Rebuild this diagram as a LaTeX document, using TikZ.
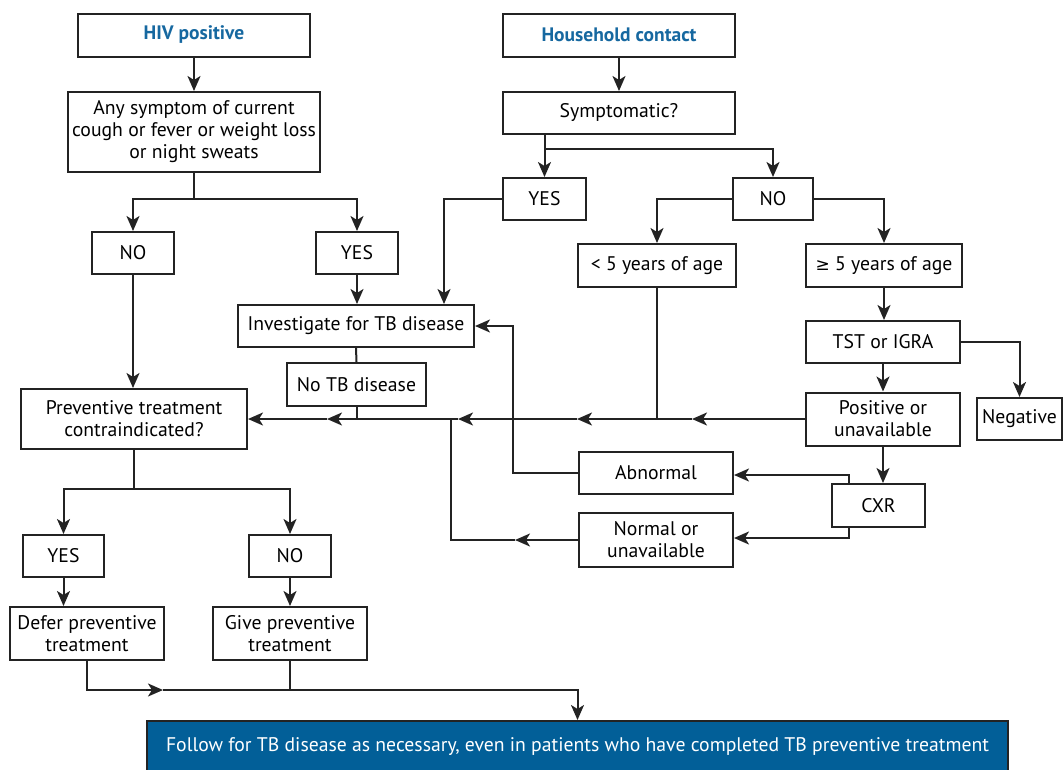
\documentclass[tikz,border=0pt]{standalone}
\usepackage{fontspec}
\setmainfont{PT Sans}
\newfontfamily\symfont{DejaVu Sans}
\usetikzlibrary{arrows.meta,calc}
\definecolor{hivblue}{RGB}{22,104,160}
\definecolor{boxblue}{RGB}{2,95,152}
\definecolor{ink}{RGB}{35,35,35}
\begin{document}
\begin{tikzpicture}[x=1pt,y=-1pt,
  font=\fontsize{19.7}{22}\selectfont,
  box/.style={draw=ink, line width=2pt, align=center, inner sep=0pt, text=black},
  title/.style={box, text=hivblue, font=\fontsize{19.5}{22}\selectfont\bfseries},
  line/.style={draw=ink, line width=2pt},
  arr/.style={line, -{Stealth[length=15pt,width=13pt,inset=4pt]}}]
\useasboundingbox (0,0) rectangle (1063,769);
% nodes
\node[title, minimum width=232pt, minimum height=43pt] (hiv) at (194,35) {HIV positive};
\node[title, minimum width=232pt, minimum height=43pt] (hh) at (619,35) {Household contact};
\node[box, minimum width=252pt, minimum height=80pt] (sym) at (194,132) {Any symptom of current\\cough or fever or weight loss\\or night sweats};
\node[box, minimum width=232pt, minimum height=42pt] (symq) at (619,113) {Symptomatic?};
\node[box, minimum width=82pt, minimum height=42pt] (hno) at (133,253) {NO};
\node[box, minimum width=82pt, minimum height=42pt] (hyes) at (357,253) {YES};
\node[box, minimum width=83pt, minimum height=42pt] (cyes) at (544.5,199) {YES};
\node[box, minimum width=80pt, minimum height=42pt] (cno) at (773,199) {NO};
\node[box, minimum width=158pt, minimum height=43pt] (lt5) at (657,265.5) {< 5 years of age};
\node[box, minimum width=156pt, minimum height=43pt] (ge5) at (884,265.5) {{\symfont\fontsize{17}{22}\selectfont ≥} 5 years of age};
\node[box, minimum width=236pt, minimum height=42pt] (inv) at (356,326) {Investigate for TB disease};
\node[box, minimum width=139pt, minimum height=43pt] (notb) at (356.5,384.5) {No TB disease};
\node[box, minimum width=154pt, minimum height=42pt] (tst) at (883,342) {TST or IGRA};
\node[box, minimum width=154pt, minimum height=53pt] (posu) at (883,419) {Positive or\\unavailable};
\node[box, minimum width=85pt, minimum height=42pt] (neg) at (1019.5,419) {Negative};
\node[box, minimum width=93pt, minimum height=43pt] (cxr) at (878.5,505.5) {CXR};
\node[box, minimum width=154pt, minimum height=42pt] (abn) at (656,473) {Abnormal};
\node[box, minimum width=154pt, minimum height=54pt] (norm) at (656,540) {Normal or\\unavailable};
\node[box, minimum width=226pt, minimum height=60pt] (prev) at (134,419) {Preventive treatment\\contraindicated?};
\node[box, minimum width=81pt, minimum height=42pt] (pyes) at (63.5,556) {YES};
\node[box, minimum width=82pt, minimum height=42pt] (pno) at (290,556) {NO};
\node[box, minimum width=154pt, minimum height=53pt] (defer) at (87,633.5) {Defer preventive\\treatment};
\node[box, minimum width=154pt, minimum height=53pt] (give) at (290,633.5) {Give preventive\\treatment};
\node[box, fill=boxblue, text=white, minimum width=861pt, minimum height=51pt] (follow) at (577.5,746.5) {Follow for TB disease as necessary, even in patients who have completed TB preventive treatment};
% coordinates
\coordinate (s1) at (194,199);
\coordinate (s2) at (544.5,149);
\coordinate (p1) at (134,489);
\coordinate (m1) at (692,419);
\coordinate (m2) at (577,419);
\coordinate (m3) at (458,419);
\coordinate (m4) at (327,419);
\coordinate (n1) at (515,540);
\coordinate (n2) at (451,540);
\coordinate (f1) at (163,690);
% connectors
\draw[arr] (hiv) -- (sym);
\draw[arr] (hh) -- (symq);
\draw[line] (sym.south) -- (s1);
\draw[arr] (s1) -| (hno.north);
\draw[arr] (s1) -| (hyes.north);
\draw[line] (symq.south -| s2) -- (s2);
\draw[arr] (s2) -- (cyes.north);
\draw[arr] (s2) -| (cno.north);
\draw[arr] (cyes.west) -| ([xshift=88pt]inv.north);
\draw[arr] (hyes.south) -- (hyes.south |- inv.north);
\draw[arr] (cno.west) -| (lt5.north);
\draw[arr] (cno.east) -| (ge5.north);
\draw[arr] (ge5.south) -- (ge5.south |- tst.north);
\draw[arr] (tst.east) -| (neg.north);
\draw[arr] (tst.south) -- (posu.north);
\draw[arr] (posu.south) -- (posu.south |- cxr.north);
\draw[arr] (posu.west) -- (m1);
\draw[arr] (m1) -- (m2);
\draw[arr] (m2) -- (m3);
\draw[arr] (m3) -- (m4);
\draw[arr] (m4) -- (prev.east);
\draw[line] (lt5.south) -- (lt5.south |- m1);
\draw[line] (inv.south) -- (notb.north);
\draw[line] (notb.south) -- (notb.south |- m1);
\draw[arr] ([xshift=-29.5pt]cxr.north) |- ([yshift=-2pt]abn.east);
\draw[arr] ([xshift=-29.5pt]cxr.south) |- ([yshift=2pt]norm.east);
\draw[arr] (abn.west) -- ++(-65,0) |- (inv.east);
\draw[arr] (norm.west) -- (n1);
\draw[line] (n1) -- (n2) -- (n2 |- m1);
\draw[arr] (hno.south) -- (hno.south |- prev.north);
\draw[line] (prev.south) -- (p1);
\draw[arr] (p1) -| (pyes.north);
\draw[arr] (p1) -| (pno.north);
\draw[arr] (pyes.south) -- (pyes.south |- defer.north);
\draw[arr] (pno.south) -- (give.north);
\draw[arr] (defer.south) |- (f1);
\draw[line] (give.south) -- (give.south |- f1);
\draw[arr] (f1) -| (follow.north);
\end{tikzpicture}
\end{document}
